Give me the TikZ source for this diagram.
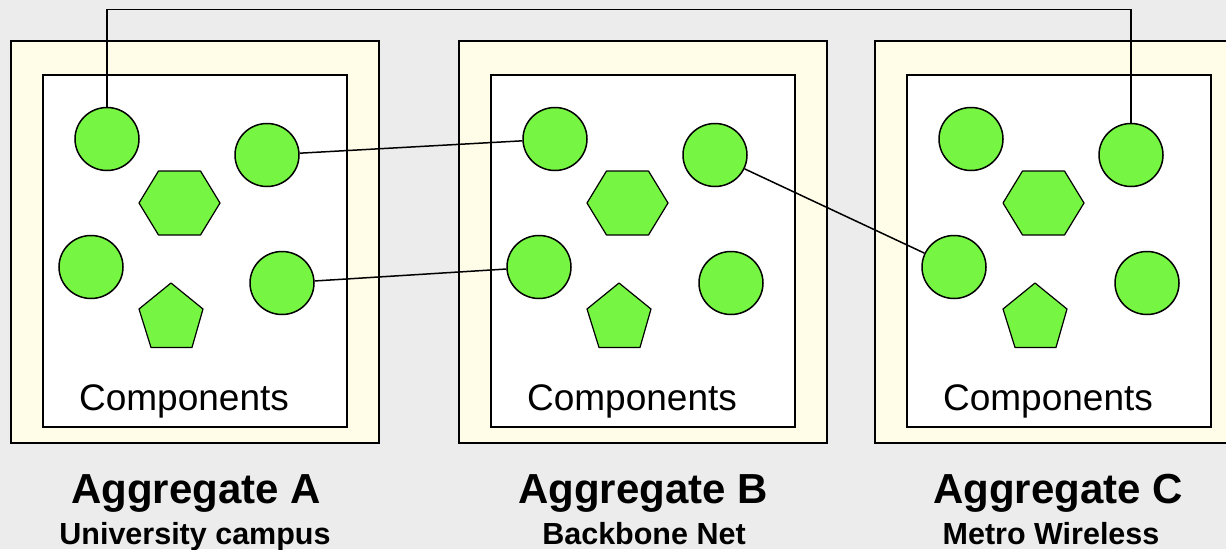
\documentclass[tikz,border=0pt]{standalone}
\usepackage{fontspec}
\setmainfont{Liberation Sans}
\usetikzlibrary{shapes.geometric,calc}
\definecolor{bgc}{RGB}{236,236,236}
\definecolor{outerc}{RGB}{255,253,232}
\definecolor{greenc}{RGB}{118,245,66}
\tikzset{
  outerbox/.style={draw=black,line width=2pt,fill=outerc},
  innerbox/.style={draw=black,line width=2pt,fill=white},
  comp/.style={ellipse,draw=black,line width=1.5pt,fill=greenc,minimum width=64pt,minimum height=63pt,inner sep=0pt},
  shapefill/.style={draw=black,line width=1.2pt,fill=greenc,line join=round},
  link/.style={draw=black,line width=1.5pt},
  complabel/.style={anchor=base,inner sep=0pt,font=\fontsize{37}{42}\selectfont},
  aggtitle/.style={anchor=base,inner sep=0pt,font=\fontsize{42}{47}\selectfont\bfseries},
  aggsub/.style={anchor=base,inner sep=0pt,font=\fontsize{30.5}{34}\selectfont\bfseries}
}
\begin{document}
\begin{tikzpicture}[x=1pt,y=-1pt]
\clip (0,0) rectangle (1226,549);
\fill[bgc] (0,0) rectangle (1226,549);
\coordinate (top) at (0,9.5);
% aggregate boxes
\foreach \ox/\nm in {11/A,459/B,875/C}{
  \draw[outerbox] (\ox,41) rectangle ++(368,402);
  \draw[innerbox] (\ox+32,75) rectangle ++(304,352);
  \node[complabel] (lab\nm) at (\ox+173,410) {Components};
  % hexagon
  \draw[shapefill] (\ox+128,203) -- ++(19.5,-32) -- ++(42,0) -- ++(19.5,32) -- ++(-19.5,32) -- ++(-42,0) -- cycle;
  % pentagon
  \draw[shapefill] (\ox+160,283) -- ++(32,26) -- ++(-11,38.5) -- ++(-41,0) -- ++(-12,-38.5) -- cycle;
}
% circles
\node[comp] (A1) at (107,139) {};
\node[comp] (A2) at (267,155) {};
\node[comp] (A3) at (91,267) {};
\node[comp] (A4) at (282,283) {};
\node[comp] (B1) at (555,139) {};
\node[comp] (B2) at (715,155) {};
\node[comp] (B3) at (539,267) {};
\node[comp] (B4) at (731,283) {};
\node[comp] (C1) at (971,139) {};
\node[comp] (C2) at (1131,155) {};
\node[comp] (C3) at (954,267) {};
\node[comp] (C4) at (1147,283) {};
% links
\draw[link] (A2) -- (B1);
\draw[link] (A4) -- (B3);
\draw[link] (B2) -- (C3);
\draw[link] (A1.north) -- (A1.north |- top) -| (C2.north);
% titles
\node[aggtitle] (tA) at (196,503) {Aggregate A};
\node[aggsub] (sA) at (195,544) {University campus};
\node[aggtitle] (tB) at (643,503) {Aggregate B};
\node[aggsub] (sB) at (644,544) {Backbone Net};
\node[aggtitle] (tC) at (1058,503) {Aggregate C};
\node[aggsub] (sC) at (1051,544) {Metro Wireless};
\end{tikzpicture}
\end{document}
